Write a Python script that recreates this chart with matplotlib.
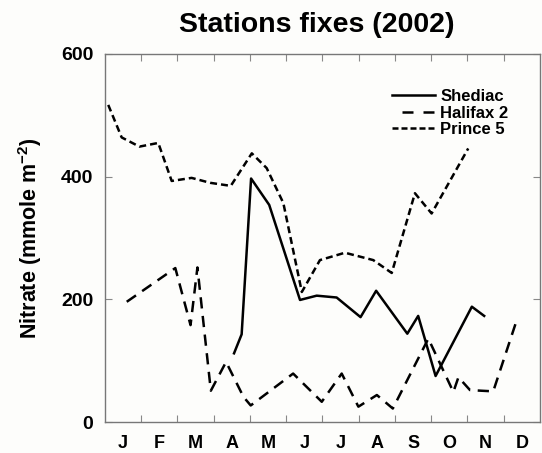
import matplotlib
matplotlib.use("Agg")
import matplotlib.pyplot as plt

# Month position (0 = start of January, 12 = end of December) and nitrate (mmole m-2)
shediac_x = [3.56, 3.77, 4.03, 4.53, 5.38, 5.84, 6.39, 7.05, 7.48, 8.34, 8.64, 9.12, 10.12, 10.46]
shediac_y = [112, 143, 397, 354, 199, 206, 203, 171, 214, 144, 173, 75, 188, 173]

halifax_x = [0.60, 1.94, 2.36, 2.55, 2.92, 3.34, 3.82, 4.02, 5.19, 5.98, 6.53, 6.99, 7.50, 7.94, 8.92, 9.61, 9.75, 10.07, 10.71, 11.33]
halifax_y = [196, 251, 158, 252, 51, 98, 41, 27, 79, 33, 79, 25, 44, 22, 136, 49, 73, 52, 50, 161]

prince_x = [0.09, 0.46, 0.95, 1.47, 1.84, 2.39, 2.90, 3.47, 4.05, 4.46, 4.92, 5.43, 5.93, 6.62, 7.40, 7.91, 8.55, 9.01, 10.02]
prince_y = [517, 464, 449, 455, 393, 398, 390, 385, 438, 414, 357, 212, 264, 276, 264, 243, 373, 340, 446]

months = ["J", "F", "M", "A", "M", "J", "J", "A", "S", "O", "N", "D"]
yticks = [0, 200, 400, 600]

plt.rcParams["font.family"] = ["Liberation Sans", "DejaVu Sans"]
plt.rcParams["mathtext.fontset"] = "custom"
plt.rcParams["mathtext.rm"] = "Liberation Sans:bold"
plt.rcParams["mathtext.bf"] = "Liberation Sans:bold"
fig = plt.figure(figsize=(5.42, 4.53), dpi=100)
fig.patch.set_facecolor("#fdfdfb")
ax = fig.add_axes([0.1937, 0.0684, 0.8026, 0.8124])
ax.set_facecolor("#fdfdfb")

ax.plot(shediac_x, shediac_y, color="black", lw=1.8, label="Shediac")
ax.plot(halifax_x, halifax_y, color="black", lw=1.8, dashes=(4.5, 3.0), label="Halifax 2")
ax.plot(prince_x, prince_y, color="black", lw=1.8, dashes=(2.8, 1.6), label="Prince 5")

ax.set_xlim(0, 12)
ax.set_ylim(0, 600)
ax.set_xticks(range(1, 12))
ax.set_xticklabels([])
ax.set_xticks([m + 0.5 for m in range(12)], minor=True)
ax.set_xticklabels(months, minor=True, fontsize=13, fontweight="bold")
ax.tick_params(axis="x", which="minor", length=0, pad=9)
ax.tick_params(axis="x", which="major", direction="in", length=5, top=True,
               color="#888888")
ax.set_yticks(yticks)
ax.set_yticklabels([str(v) for v in yticks], fontsize=14, fontweight="bold")
ax.tick_params(axis="y", direction="in", length=5, right=True, color="#888888", pad=8.5)

for s in ax.spines.values():
    s.set_color("#777777")
    s.set_linewidth(1.0)

ax.set_ylabel("Nitrate (mmole m$^{\\mathbf{-2}}$)", fontsize=15.5, fontweight="bold", labelpad=12)
fig.text(0.585, 0.944, "Stations fixes (2002)", ha="center", va="center",
         fontsize=20.5, fontweight="bold")

leg = ax.legend(loc="upper left", bbox_to_anchor=(0.66, 0.905), frameon=False,
                borderpad=0, borderaxespad=0,
                handlelength=2.6, handletextpad=0.3, labelspacing=0.1,
                prop={"weight": "bold", "size": 12})
handles = leg.get_lines()
handles[1].set_linestyle((4.4, (4.4, 4.0)))
handles[2].set_linestyle((0, (2.4, 1.2)))

fig.savefig("out.png", dpi=100, facecolor=fig.get_facecolor())
